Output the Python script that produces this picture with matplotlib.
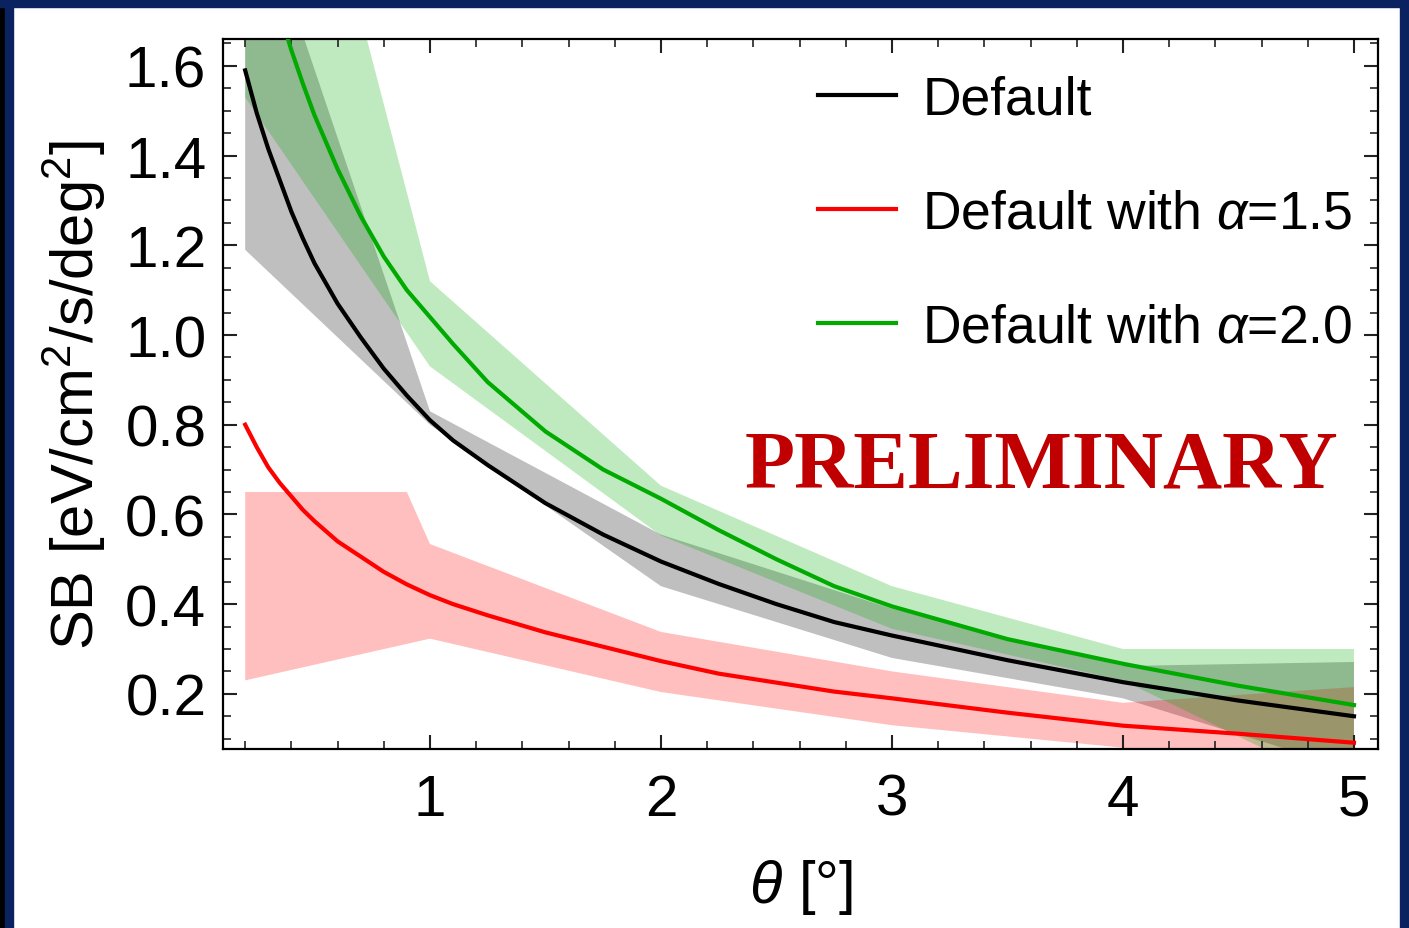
import numpy as np
import matplotlib
matplotlib.use("Agg")
import matplotlib.pyplot as plt
from matplotlib.patches import Rectangle
from matplotlib.ticker import MultipleLocator, FormatStrFormatter

plt.rcParams['font.family'] = ['Liberation Sans', 'DejaVu Sans']
plt.rcParams['mathtext.fontset'] = 'custom'
plt.rcParams['mathtext.it'] = 'Liberation Sans:italic'
plt.rcParams['mathtext.rm'] = 'Liberation Sans'

# curves
theta = [0.2, 0.25, 0.3, 0.35, 0.4, 0.45, 0.5, 0.6, 0.7, 0.8, 0.9, 1.0, 1.1, 1.25,
         1.5, 1.75, 2.0, 2.25, 2.5, 2.75, 3.0, 3.5, 4.0, 4.5, 5.0]
sb_default = [1.59, 1.495, 1.415, 1.345, 1.275, 1.215, 1.16, 1.07, 0.995, 0.925, 0.865, 0.81, 0.765, 0.71,
              0.625, 0.555, 0.495, 0.445, 0.40, 0.36, 0.33, 0.275, 0.226, 0.185, 0.15]
sb_a15 = [0.80, 0.75, 0.705, 0.67, 0.64, 0.61, 0.585, 0.54, 0.506, 0.472, 0.444, 0.42, 0.40, 0.375,
          0.337, 0.305, 0.273, 0.245, 0.225, 0.205, 0.19, 0.158, 0.129, 0.111, 0.091]
sb_a20 = [2.05, 1.93, 1.82, 1.72, 1.635, 1.56, 1.49, 1.37, 1.265, 1.175, 1.10, 1.04, 0.98, 0.895,
          0.785, 0.70, 0.635, 0.565, 0.50, 0.44, 0.395, 0.322, 0.267, 0.218, 0.175]

# uncertainty bands (upper / lower edges)
gray_x = [0.2, 1.0, 2.0, 3.0, 4.0, 5.0]
gray_hi = [2.05, 0.83, 0.555, 0.39, 0.262, 0.271]
gray_lo = [1.19, 0.80, 0.44, 0.28, 0.19, 0.03]

red_hi_x = [0.2, 0.9, 1.0, 2.0, 3.0, 4.0, 5.0]
red_hi = [0.65, 0.65, 0.534, 0.338, 0.25, 0.18, 0.215]
red_lo_x = [0.2, 1.0, 2.0, 3.0, 4.0, 5.0]
red_lo = [0.23, 0.323, 0.204, 0.13, 0.08, 0.0]

green_x = [0.2, 1.0, 2.0, 3.0, 4.0, 5.0]
green_hi = [2.70, 1.12, 0.664, 0.44, 0.30, 0.30]
green_lo = [1.53, 0.93, 0.553, 0.345, 0.23, -0.02]

labels = ['Default', r'Default with $\alpha$=1.5', r'Default with $\alpha$=2.0']

fig = plt.figure(figsize=(14.09, 9.29), dpi=100)
ax = fig.add_axes([223/1409, 1-750/929, (1378-223)/1409, (750-40)/929])


def band(xh, yh, xl, yl, color):
    px = list(xh) + list(xl)[::-1]
    py = list(yh) + list(yl)[::-1]
    ax.fill(px, py, color=color, alpha=0.25, lw=0, zorder=1)


band(gray_x, gray_hi, gray_x, gray_lo, 'black')
band(red_hi_x, red_hi, red_lo_x, red_lo, 'red')
band(green_x, green_hi, green_x, green_lo, '#00aa00')

ax.plot(theta, sb_default, color='black', lw=3, label=labels[0], zorder=3)
ax.plot(theta, sb_a15, color='#ff0000', lw=3, label=labels[1], zorder=3)
ax.plot(theta, sb_a20, color='#00aa00', lw=3, label=labels[2], zorder=3)

ax.set_xlim(0.104, 5.104)
ax.set_ylim(0.077, 1.66)
ax.xaxis.set_major_locator(MultipleLocator(1))
ax.xaxis.set_minor_locator(MultipleLocator(0.2))
ax.yaxis.set_major_locator(MultipleLocator(0.2))
ax.yaxis.set_minor_locator(MultipleLocator(0.05))
ax.yaxis.set_major_formatter(FormatStrFormatter('%.1f'))
ax.tick_params(which='both', direction='in', top=True, right=True, labelsize=42, color='#222222')
ax.tick_params(which='major', length=10, width=1.5)
ax.tick_params(which='minor', length=6, width=1.2)
ax.tick_params(axis='x', pad=17)
ax.tick_params(axis='y', pad=12)
for s in ax.spines.values():
    s.set_linewidth(1.6)

ax.set_xlabel(r'$\it{\theta}$ [°]', fontsize=43, labelpad=22)
ax.set_ylabel(r'SB [eV/cm$^2$/s/deg$^2$]', fontsize=43, labelpad=12)

ax.legend(loc='upper right', fontsize=38.5, frameon=False, handlelength=1.45,
          handletextpad=0.5, labelspacing=1.2, borderaxespad=0.2,
          bbox_to_anchor=(1.006, 0.995))

fig.text(1042/1409, 1-468/929, 'PRELIMINARY', fontsize=59, color='#c00000',
         family='Liberation Serif', weight='bold', ha='center', va='center')

# dark slide frame
navy = '#0a2360'
fig.patches.append(Rectangle((0, 0), 5/1409, 1, transform=fig.transFigure, color='black', zorder=0))
fig.patches.append(Rectangle((5/1409, 0), 8/1409, 1, transform=fig.transFigure, color=navy, zorder=0))
fig.patches.append(Rectangle((0, 1-8/929), 1, 8/929, transform=fig.transFigure, color=navy, zorder=0))
fig.patches.append(Rectangle((1400/1409, 0), 9/1409, 1, transform=fig.transFigure, color=navy, zorder=0))

fig.savefig('out.png', dpi=100)
